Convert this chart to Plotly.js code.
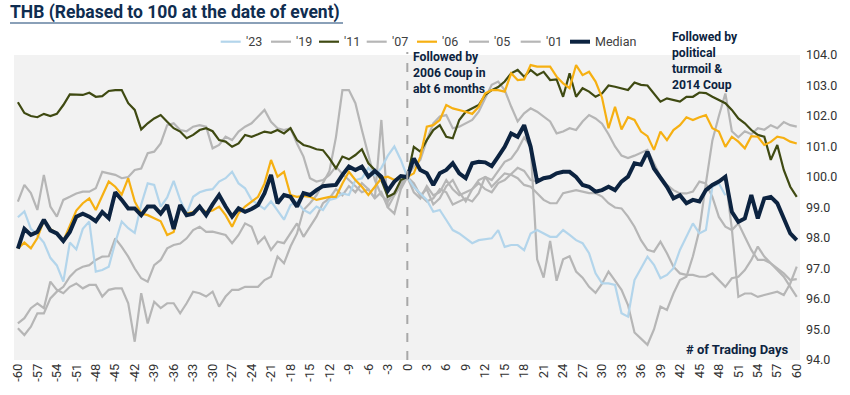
<!DOCTYPE html>
<html><head><meta charset="utf-8">
<script src="https://cdn.plot.ly/plotly-3.0.1.min.js"></script>
<style>html,body{margin:0;padding:0;background:#fff;}#chart{width:850px;height:395px;}</style>
</head><body><div id="chart"></div>
<script>
const days = [-60,-59,-58,-57,-56,-55,-54,-53,-52,-51,-50,-49,-48,-47,-46,-45,-44,-43,-42,-41,-40,-39,-38,-37,-36,-35,-34,-33,-32,-31,-30,-29,-28,-27,-26,-25,-24,-23,-22,-21,-20,-19,-18,-17,-16,-15,-14,-13,-12,-11,-10,-9,-8,-7,-6,-5,-4,-3,-2,-1,0,1,2,3,4,5,6,7,8,9,10,11,12,13,14,15,16,17,18,19,20,21,22,23,24,25,26,27,28,29,30,31,32,33,34,35,36,37,38,39,40,41,42,43,44,45,46,47,48,49,50,51,52,53,54,55,56,57,58,59,60];

const y23 = [98.68,98.87,98.3,98.1,97.85,97.35,97.1,96.57,97.85,97.63,98.3,98.54,96.9,96.95,97.06,97.85,98.54,98.32,98.17,99.1,99.79,99.74,99.03,99.33,99.87,99.25,98.8,99.35,99.5,99.57,99.6,99.85,99.96,100.17,99.79,99.63,99.25,99.1,98.95,99.2,98.9,98.6,99.08,99.19,98.92,98.81,99.03,98.92,99.25,99.3,99.46,99.41,99.9,99.96,100.3,100.05,100.3,100.7,101.0,100.56,100,
99.68,99.46,99.25,98.86,98.92,98.59,98.26,98.15,97.99,97.83,97.93,97.97,97.99,98.26,97.71,97.77,97.77,97.6,98.15,98.26,98.15,98.04,98.04,98.26,98.1,97.93,97.83,97.5,96.84,96.51,96.51,96.46,95.53,95.42,96.62,97.01,97.39,97.12,96.68,96.79,97.01,97.61,98.04,98.48,98.15,98.26,99.68,99.79,99.4,null,null,null,null,null,null,null,null,null,null,null];

const y19 = [97.65,98.3,98.1,98.2,98.6,98.25,98.15,97.9,98.2,98.7,98.8,98.7,98.55,98.85,98.65,99.5,99.25,98.97,98.97,98.75,99.03,99.03,98.8,99.08,98.3,99.08,98.75,98.8,99.03,98.75,99.1,99.41,99.03,98.7,98.97,98.86,98.95,99.08,99.47,100.07,99.14,99.41,99.35,99.03,99.47,99.41,99.57,99.7,99.72,99.74,100.07,100.34,100.23,100.34,100.01,100.2,100.01,99.55,99.85,100.03,100,
99.8,99.4,99.6,99.1,99.3,99.7,99.9,99.5,99.2,99.6,99.8,99.6,99.5,99.8,99.9,100.1,100.3,100.2,99.9,99.85,99.96,100.0,100.1,100.2,100.15,100.0,99.74,99.68,99.52,99.57,99.68,99.57,99.85,100.01,100.45,100.4,100.83,100.28,99.96,99.68,99.3,99.4,99.14,99.25,99.2,99.57,99.74,99.85,100.01,98.3,96.07,96.18,96.18,96.07,96.13,96.18,96.24,96.13,96.51,97.06];

const y11 = [102.45,102.1,102.0,101.96,102.07,102.0,102.07,102.36,102.71,102.7,102.69,102.76,102.63,102.65,102.82,102.85,102.85,102.42,102.2,101.56,101.76,101.92,102.03,101.81,101.6,101.49,101.27,101.38,101.54,101.6,101.5,101.21,101.16,100.99,101.1,101.38,101.32,101.4,101.49,101.45,101.54,101.43,101.6,101.21,101.05,100.99,100.91,100.88,100.61,100.28,100.67,100.58,100.72,100.91,100.45,100.23,99.9,99.35,99.46,99.9,100,
100.99,100.83,101.21,101.54,101.7,101.32,101.27,101.87,102.14,102.25,102.36,102.69,102.85,102.95,103.13,103.4,103.51,103.29,103.51,103.34,103.45,103.18,103.2,102.63,103.4,102.63,102.91,102.8,102.63,102.74,103.0,102.96,102.9,102.85,103.1,103.02,103.0,102.74,102.47,102.58,102.52,102.47,102.63,102.63,102.77,102.75,102.63,102.52,102.42,102.2,101.92,101.76,101.54,101.38,101.32,100.56,101.05,100.23,99.68,99.35];

const y07 = [99.19,99.74,99.47,98.92,100.07,99.03,98.7,99.25,99.35,99.46,99.52,99.52,99.63,100.17,100.12,100.07,99.96,100.0,100.23,100.28,100.78,100.83,101.1,101.7,101.76,101.54,101.5,101.65,101.7,101.65,100.94,101.05,101.32,101.21,101.49,101.65,101.76,101.98,102.2,101.81,101.6,101.54,101.6,101.1,100.67,99.96,99.85,99.9,100.07,100.34,100.1,99.9,99.7,99.5,99.6,99.3,99.5,99.0,99.4,99.7,100,
100.34,100.56,101.21,101.76,101.98,102.03,101.6,101.65,101.76,101.87,102.14,102.58,103.02,103.13,102.85,102.31,101.82,102.09,102.25,102.14,101.98,101.82,101.43,101.49,101.6,101.54,101.82,102.03,101.92,101.75,101.4,101.0,100.7,100.62,100.7,100.8,100.89,100.45,100.01,99.74,99.57,99.46,99.46,99.52,99.85,99.79,99.35,98.69,98.37,98.26,98.48,98.04,97.61,97.28,97.28,97.17,96.95,96.73,96.4,96.07];

const y06 = [97.66,97.85,97.66,98.0,98.58,98.3,98.15,97.9,98.4,98.9,99.14,99.3,98.92,99.41,99.85,99.68,99.42,99.96,99.2,98.8,98.75,98.65,98.55,98.1,98.2,99.05,98.8,98.85,99.0,98.85,98.9,99.03,98.75,98.37,98.81,99.03,99.2,99.35,99.79,100.56,100.01,100.17,99.41,99.35,99.38,99.35,99.25,99.3,99.35,99.35,99.79,100.17,99.9,99.68,99.41,99.68,99.96,100.01,99.9,100.01,100,
100.12,100.67,101.65,101.7,101.87,102.36,102.25,102.2,102.14,102.07,102.3,102.74,102.85,102.85,102.8,103.4,103.18,103.2,103.67,103.62,103.62,103.62,103.29,103.07,102.91,103.67,103.34,103.45,103.13,102.6,101.6,102.3,101.56,101.96,101.87,101.49,101.34,100.89,101.49,101.21,101.54,101.7,101.96,101.87,101.96,102.03,101.6,101.49,100.99,101.32,101.16,100.94,101.34,101.32,101.05,101.15,101.32,101.28,101.16,101.1];

const y05 = [95.2,95.37,95.7,95.86,95.7,96.57,96.3,96.19,96.4,96.51,96.35,96.46,96.46,96.08,96.3,96.35,96.35,95.86,94.6,96.19,95.2,95.91,95.7,95.86,95.86,95.53,95.86,96.24,96.19,96.08,96.24,95.75,96.08,96.3,96.3,96.4,96.4,96.4,96.62,96.73,97.39,97.17,97.72,98.15,98.92,99.14,99.4,99.8,100.2,101.3,102.85,102.85,102.42,101.54,100.67,99.9,99.4,99.2,99.5,99.8,100,
99.7,99.4,99.2,99.3,99.6,99.5,99.1,99.2,99.3,99.2,99.47,100.01,99.68,99.9,100.12,100.07,99.96,99.74,99.68,99.47,99.25,99.14,99.14,99.47,99.52,99.57,99.52,99.47,99.47,99.36,99.14,99.0,98.97,98.7,98.37,97.93,97.61,97.55,97.88,97.5,97.06,96.84,96.79,96.79,96.73,96.73,96.84,96.62,96.4,96.68,96.73,96.95,97.28,97.72,97.39,97.17,97.01,96.84,96.62,96.65];

const y01 = [95.04,94.82,95.09,95.53,95.53,96.02,96.24,96.4,96.73,96.95,97.06,97.11,97.28,97.39,97.4,97.99,97.71,97.39,97.0,96.68,96.57,97.11,97.28,97.66,97.77,97.82,97.99,98.26,98.37,98.2,98.21,98.15,98.1,97.83,98.1,98.48,98.37,97.83,98.04,97.61,97.88,97.83,98.15,98.48,98.04,98.37,98.7,99.14,99.3,99.6,99.4,99.7,99.5,99.8,99.6,99.3,101.87,99.0,98.8,99.6,100,
99.5,99.3,99.7,99.4,99.5,99.9,99.6,99.4,99.5,99.6,99.9,100.0,99.9,100.2,100.5,100.6,100.9,101.3,101.0,97.3,96.7,97.9,96.6,97.3,97.4,96.9,96.7,96.4,96.2,96.5,96.9,96.6,96.3,95.8,94.9,94.7,94.5,95.0,95.75,95.64,96.18,96.62,96.73,97.4,98.26,99.79,101.2,102.0,102.74,101.5,101.3,101.5,101.4,101.6,101.55,101.7,101.6,101.8,101.7,101.65];

const median = [97.65,98.3,98.1,98.2,98.6,98.25,98.15,97.9,98.2,98.7,98.8,98.7,98.55,98.85,98.65,99.5,99.25,98.97,98.97,98.75,99.03,99.03,98.8,99.08,98.3,99.08,98.75,98.8,99.03,98.75,99.1,99.41,99.03,98.7,98.97,98.86,98.95,99.08,99.47,100.07,99.14,99.41,99.35,99.03,99.47,99.41,99.57,99.7,99.72,99.74,100.07,100.34,100.23,100.34,100.01,100.2,100.01,99.55,99.85,100.03,100,
100.61,100.23,100.12,99.74,100.12,100.23,100.45,100.12,99.96,100.45,100.5,100.48,100.36,100.67,100.99,101.43,101.32,101.7,100.99,99.85,99.96,100.0,100.12,100.17,100.17,100.0,99.74,99.68,99.52,99.57,99.68,99.57,99.85,100.01,100.45,100.4,100.83,100.28,99.96,99.68,99.3,99.4,99.14,99.25,99.2,99.57,99.74,99.85,100.01,98.86,98.53,98.64,99.41,98.64,99.3,99.35,99.14,98.64,98.15,97.93];

const xTickVals = [-60,-57,-54,-51,-48,-45,-42,-39,-36,-33,-30,-27,-24,-21,-18,-15,-12,-9,-6,-3,0,3,6,9,12,15,18,21,24,27,30,33,36,39,42,45,48,51,54,57,60];
const yTickVals = [94,95,96,97,98,99,100,101,102,103,104];

const GRAY = '#b6b6b6', NAVY = '#0c2340';
const series = [
  {name: "'23", y: y23, color: '#b3d5eb', width: 2.2},
  {name: "'19", y: y19, color: GRAY, width: 2.2},
  {name: "'11", y: y11, color: '#3f4a12', width: 2.2},
  {name: "'07", y: y07, color: GRAY, width: 2.2},
  {name: "'06", y: y06, color: '#f6b012', width: 2.2},
  {name: "'05", y: y05, color: GRAY, width: 2.2},
  {name: "'01", y: y01, color: GRAY, width: 2.2},
  {name: "Median", y: median, color: NAVY, width: 4}
];
const drawOrder = ["'19", "'07", "'05", "'01", "'23", "'11", "'06", "Median"];
const data = drawOrder.map(n => {
  const s = series.find(q => q.name === n);
  return {x: days, y: s.y, name: s.name, type: 'scatter', mode: 'lines',
          line: {color: s.color, width: s.width}, showlegend: false, connectgaps: false, hoverinfo: 'skip'};
});

const PL = 14, PW = 786, PT = 55, PH = 305;
const px2x = p => (p - PL) / PW;
const py2y = p => 1 + (PT - p) / PH;
const legStart = [220.7, 271, 319, 366.7, 417, 469, 520.7, 570];
const legY = 41.7;
const shapes = [
  {type: 'line', xref: 'x', yref: 'paper', x0: 0, x1: 0, y0: 0, y1: 1.01,
   line: {color: '#a8a8a8', width: 2, dash: 'dash'}},
  {type: 'line', xref: 'paper', yref: 'paper', x0: px2x(10), x1: px2x(343), y0: py2y(23), y1: py2y(23),
   line: {color: '#8aa0b8', width: 2}}
];
const annotations = [];
series.forEach((s, i) => {
  shapes.push({type: 'line', xref: 'paper', yref: 'paper', x0: px2x(legStart[i]), x1: px2x(legStart[i] + 20),
               y0: py2y(legY), y1: py2y(legY), line: {color: s.color, width: s.width}});
  annotations.push({text: s.name, xref: 'paper', yref: 'paper', x: px2x(legStart[i] + 23), y: py2y(legY),
                    xanchor: 'left', yanchor: 'middle', showarrow: false,
                    font: {size: 12.5, color: '#404040'}});
});
annotations.push(
  {text: '<b>Followed by<br>2006 Coup in<br>abt 6 months</b>', xref: 'x', yref: 'paper', x: 0.6, y: py2y(47.5),
   xanchor: 'left', yanchor: 'top', align: 'left', showarrow: false, font: {size: 12.2, color: NAVY}},
  {text: '<b>Followed by<br>political<br>turmoil &<br>2014 Coup</b>', xref: 'x', yref: 'paper', x: 40.45, y: py2y(28.5),
   xanchor: 'left', yanchor: 'top', align: 'left', showarrow: false, font: {size: 12.2, color: NAVY}},
  {text: '<b># of Trading Days</b>', xref: 'x', yref: 'y', x: 59.1, y: 94.36,
   xanchor: 'right', yanchor: 'middle', showarrow: false, font: {size: 13, color: NAVY}}
);

const layout = {
  width: 850, height: 395,
  margin: {l: PL, r: 850 - PL - PW, t: PT, b: 395 - PT - PH},
  paper_bgcolor: '#ffffff', plot_bgcolor: '#f2f2f2',
  font: {family: 'Roboto, sans-serif', size: 12, color: '#333333'},
  title: {text: '<b>THB (Rebased to 100 at the date of event)</b>', x: 10/850, xanchor: 'left', xref: 'container',
          y: 1 - 12/395, yanchor: 'middle', yref: 'container',
          font: {family: 'Roboto, sans-serif', size: 17.5, color: '#0f2d50'}},
  showlegend: false,
  xaxis: {range: [-60.6, 60.5], tickvals: xTickVals, ticktext: xTickVals.map(String), tickangle: -90,
          showgrid: false, zeroline: false, showline: false, ticks: '',
          tickfont: {size: 13, color: '#333333'}, fixedrange: true},
  yaxis: {range: [94, 104], side: 'right', tickvals: yTickVals, tickformat: '.1f',
          showgrid: false, zeroline: false, showline: false, ticks: '', ticklabelstandoff: 5,
          tickfont: {size: 12.5, color: '#333333'}, fixedrange: true},
  shapes: shapes,
  annotations: annotations
};
Plotly.newPlot('chart', data, layout, {displayModeBar: false, staticPlot: true});
</script></body></html>
